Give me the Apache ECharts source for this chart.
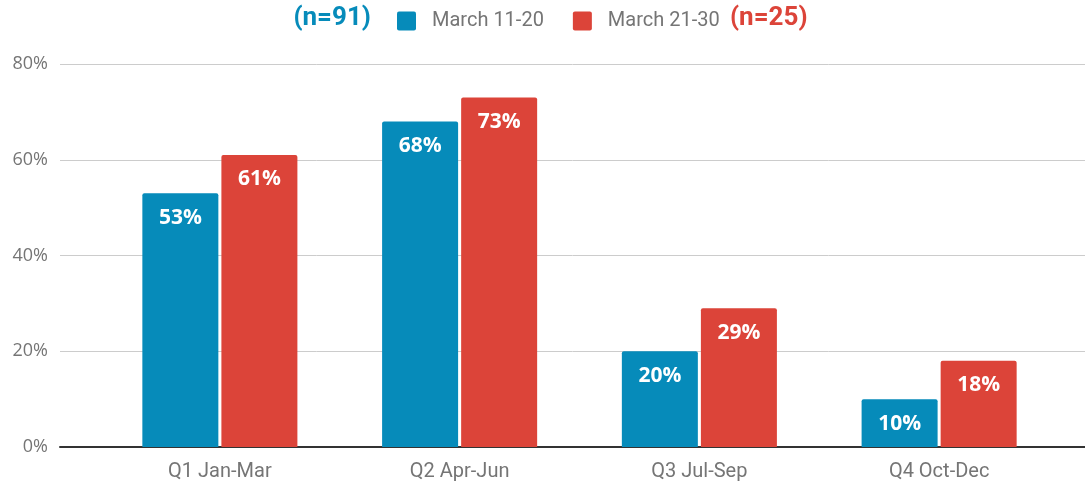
<!DOCTYPE html>
<html>
<head>
<meta charset="utf-8">
<script src="https://cdn.jsdelivr.net/npm/echarts@6/dist/echarts.min.js"></script>
<style>
html,body{margin:0;padding:0;background:#fff;}
#chart{width:1085px;height:483px;}
</style>
</head>
<body>
<div id="chart"></div>
<script>
const categories = ['Q1 Jan-Mar', 'Q2 Apr-Jun', 'Q3 Jul-Sep', 'Q4 Oct-Dec'];
const seriesNames = ['March 11-20', 'March 21-30'];
const march11to20 = [53, 68, 20, 10];
const march21to30 = [61, 73, 29, 18];
const sampleSizes = ['(n=91)', '(n=25)'];
const yTicks = [0, 20, 40, 60, 80];

const BLUE = '#068bba';
const RED = '#dc4439';

const chart = echarts.init(document.getElementById('chart'), null, {renderer: 'canvas'});

const labelStyle = {
  show: true,
  position: 'insideTop',
  distance: 14,
  color: '#ffffff',
  fontFamily: 'Open Sans',
  fontWeight: 'bold',
  fontSize: 21,
  formatter: p => p.value + '%'
};

chart.setOption({
  animation: false,
  textStyle: {fontFamily: 'Roboto'},
  legend: {
    data: seriesNames,
    left: 397,
    top: 11,
    padding: 0,
    itemWidth: 19,
    itemHeight: 19,
    itemGap: 29,
    icon: 'path://M2,0 L17,0 Q19,0 19,2 L19,17 Q19,19 17,19 L2,19 Q0,19 0,17 L0,2 Q0,0 2,0 Z',
    textStyle: {color: '#757575', fontSize: 20, fontFamily: 'Roboto', padding: [0, 0, 0, 11]}
  },
  graphic: [
    {type: 'text', right: 1085 - 371, top: 5, style: {text: sampleSizes[0], fill: BLUE, fontSize: 26, fontWeight: 'bold', fontFamily: 'Roboto'}},
    {type: 'text', left: 730, top: 5, style: {text: sampleSizes[1], fill: RED, fontSize: 26, fontWeight: 'bold', fontFamily: 'Roboto'}}
  ],
  grid: [
    {left: 60, right: 0, top: 64, bottom: 36},
    {left: 100, right: 26, top: 64, bottom: 36}
  ],
  xAxis: [
    {
      gridIndex: 0, type: 'category', data: [''],
      axisLine: {show: true, lineStyle: {color: '#333333', width: 2}},
      axisTick: {show: false}, axisLabel: {show: false}
    },
    {
      gridIndex: 1, type: 'category', data: categories,
      axisLine: {show: false}, axisTick: {show: false},
      axisLabel: {color: '#757575', fontSize: 20, margin: 15, fontFamily: 'Roboto'}
    }
  ],
  yAxis: [
    {
      gridIndex: 0, type: 'value', min: 0, max: 80, interval: 20,
      axisLine: {show: false}, axisTick: {show: false},
      axisLabel: {color: '#757575', fontSize: 18, margin: 12, fontFamily: 'Open Sans', formatter: v => v + '%'},
      splitLine: {lineStyle: {color: '#cccccc', width: 1}}
    },
    {
      gridIndex: 1, type: 'value', min: 0, max: 80, interval: 20,
      show: false, splitLine: {show: false}
    }
  ],
  series: [
    {
      name: seriesNames[0], type: 'bar', xAxisIndex: 1, yAxisIndex: 1,
      data: march11to20, barWidth: 76, barGap: '4%',
      itemStyle: {color: BLUE, borderRadius: [2, 2, 0, 0]},
      label: labelStyle
    },
    {
      name: seriesNames[1], type: 'bar', xAxisIndex: 1, yAxisIndex: 1,
      data: march21to30, barWidth: 76, barGap: '4%',
      itemStyle: {color: RED, borderRadius: [2, 2, 0, 0]},
      label: labelStyle
    }
  ]
});
</script>
</body>
</html>
